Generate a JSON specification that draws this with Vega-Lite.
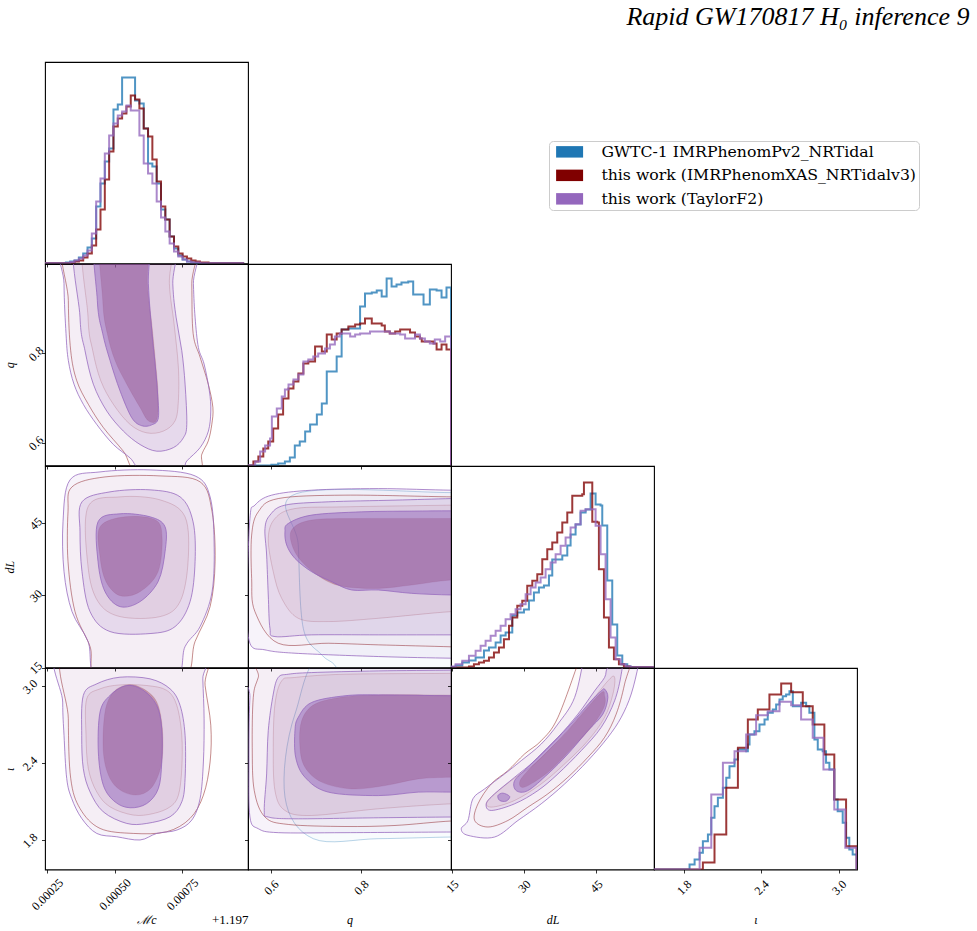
{
"$schema": "https://vega.github.io/schema/vega-lite/v6.json",
"background": "white",
"padding": {"left": 2, "top": 4, "right": 5, "bottom": 5},
"title": {"text": "Rapid GW170817 H₀ inference  9", "anchor": "end", "frame": "bounds", "font": "Liberation Serif", "fontSize": 26, "fontStyle": "italic", "fontWeight": "normal", "color": "black", "offset": 31, "dx": 50},
"datasets": {
"hist": [
{"h":"mc","s":"G","x":0.00024,"y":0.3},{"h":"mc","s":"G","x":0.00032,"y":1},{"h":"mc","s":"G","x":0.000336,"y":2},{"h":"mc","s":"G","x":0.000352,"y":3},{"h":"mc","s":"G","x":0.000368,"y":6},{"h":"mc","s":"G","x":0.000384,"y":10},{"h":"mc","s":"G","x":0.0004,"y":16},{"h":"mc","s":"G","x":0.000416,"y":25},{"h":"mc","s":"G","x":0.000432,"y":57},{"h":"mc","s":"G","x":0.000448,"y":80},{"h":"mc","s":"G","x":0.000464,"y":102},{"h":"mc","s":"G","x":0.00048,"y":115},{"h":"mc","s":"G","x":0.000496,"y":154},{"h":"mc","s":"G","x":0.000512,"y":159},{"h":"mc","s":"G","x":0.000528,"y":186},{"h":"mc","s":"G","x":0.000544,"y":186},{"h":"mc","s":"G","x":0.00056,"y":186},{"h":"mc","s":"G","x":0.000576,"y":163},{"h":"mc","s":"G","x":0.000592,"y":160},{"h":"mc","s":"G","x":0.000608,"y":135},{"h":"mc","s":"G","x":0.000624,"y":100},{"h":"mc","s":"G","x":0.00064,"y":97},{"h":"mc","s":"G","x":0.000656,"y":80},{"h":"mc","s":"G","x":0.000672,"y":54},{"h":"mc","s":"G","x":0.000688,"y":44},{"h":"mc","s":"G","x":0.000704,"y":27},{"h":"mc","s":"G","x":0.00072,"y":15},{"h":"mc","s":"G","x":0.000736,"y":8},{"h":"mc","s":"G","x":0.000752,"y":4},{"h":"mc","s":"G","x":0.000768,"y":2},{"h":"mc","s":"G","x":0.000784,"y":1},{"h":"mc","s":"G","x":0.0008,"y":0.5},{"h":"mc","s":"G","x":0.000848,"y":0.2},{"h":"mc","s":"G","x":0.000976,"y":0},
{"h":"mc","s":"X","x":0.00024,"y":0.3},{"h":"mc","s":"X","x":0.000352,"y":2},{"h":"mc","s":"X","x":0.000368,"y":3},{"h":"mc","s":"X","x":0.000384,"y":6},{"h":"mc","s":"X","x":0.0004,"y":10},{"h":"mc","s":"X","x":0.000416,"y":18},{"h":"mc","s":"X","x":0.000432,"y":34},{"h":"mc","s":"X","x":0.000448,"y":54},{"h":"mc","s":"X","x":0.000464,"y":84},{"h":"mc","s":"X","x":0.00048,"y":112},{"h":"mc","s":"X","x":0.000496,"y":137},{"h":"mc","s":"X","x":0.000512,"y":145},{"h":"mc","s":"X","x":0.000528,"y":150},{"h":"mc","s":"X","x":0.000544,"y":157},{"h":"mc","s":"X","x":0.00056,"y":168},{"h":"mc","s":"X","x":0.000576,"y":164},{"h":"mc","s":"X","x":0.000592,"y":155},{"h":"mc","s":"X","x":0.000608,"y":135},{"h":"mc","s":"X","x":0.000624,"y":127},{"h":"mc","s":"X","x":0.00064,"y":104},{"h":"mc","s":"X","x":0.000656,"y":82},{"h":"mc","s":"X","x":0.000672,"y":57},{"h":"mc","s":"X","x":0.000688,"y":44},{"h":"mc","s":"X","x":0.000704,"y":27},{"h":"mc","s":"X","x":0.00072,"y":17},{"h":"mc","s":"X","x":0.000736,"y":10},{"h":"mc","s":"X","x":0.000752,"y":7},{"h":"mc","s":"X","x":0.000768,"y":5},{"h":"mc","s":"X","x":0.000784,"y":3},{"h":"mc","s":"X","x":0.0008,"y":2},{"h":"mc","s":"X","x":0.000816,"y":1},{"h":"mc","s":"X","x":0.000848,"y":0.3},{"h":"mc","s":"X","x":0.000976,"y":0},
{"h":"mc","s":"T","x":0.00024,"y":0.3},{"h":"mc","s":"T","x":0.000336,"y":1.5},{"h":"mc","s":"T","x":0.000352,"y":3},{"h":"mc","s":"T","x":0.000368,"y":5},{"h":"mc","s":"T","x":0.000384,"y":8},{"h":"mc","s":"T","x":0.0004,"y":13},{"h":"mc","s":"T","x":0.000416,"y":30},{"h":"mc","s":"T","x":0.000432,"y":62},{"h":"mc","s":"T","x":0.000448,"y":85},{"h":"mc","s":"T","x":0.000464,"y":110},{"h":"mc","s":"T","x":0.00048,"y":128},{"h":"mc","s":"T","x":0.000496,"y":140},{"h":"mc","s":"T","x":0.000512,"y":148},{"h":"mc","s":"T","x":0.000528,"y":152},{"h":"mc","s":"T","x":0.000544,"y":158},{"h":"mc","s":"T","x":0.00056,"y":153},{"h":"mc","s":"T","x":0.000576,"y":153},{"h":"mc","s":"T","x":0.000592,"y":128},{"h":"mc","s":"T","x":0.000608,"y":100},{"h":"mc","s":"T","x":0.000624,"y":90},{"h":"mc","s":"T","x":0.00064,"y":80},{"h":"mc","s":"T","x":0.000656,"y":62},{"h":"mc","s":"T","x":0.000672,"y":46},{"h":"mc","s":"T","x":0.000688,"y":32},{"h":"mc","s":"T","x":0.000704,"y":20},{"h":"mc","s":"T","x":0.00072,"y":12},{"h":"mc","s":"T","x":0.000736,"y":7},{"h":"mc","s":"T","x":0.000752,"y":4},{"h":"mc","s":"T","x":0.000768,"y":2},{"h":"mc","s":"T","x":0.000784,"y":1},{"h":"mc","s":"T","x":0.000816,"y":0.3},{"h":"mc","s":"T","x":0.000976,"y":0},
{"h":"q","s":"G","x":0.542,"y":0},{"h":"q","s":"G","x":0.601,"y":0.7},{"h":"q","s":"G","x":0.616,"y":2},{"h":"q","s":"G","x":0.631,"y":4},{"h":"q","s":"G","x":0.642,"y":8},{"h":"q","s":"G","x":0.653,"y":20},{"h":"q","s":"G","x":0.664,"y":24},{"h":"q","s":"G","x":0.676,"y":34},{"h":"q","s":"G","x":0.687,"y":41},{"h":"q","s":"G","x":0.702,"y":51},{"h":"q","s":"G","x":0.713,"y":62},{"h":"q","s":"G","x":0.724,"y":94},{"h":"q","s":"G","x":0.746,"y":109},{"h":"q","s":"G","x":0.757,"y":136},{"h":"q","s":"G","x":0.772,"y":137},{"h":"q","s":"G","x":0.798,"y":159},{"h":"q","s":"G","x":0.809,"y":172},{"h":"q","s":"G","x":0.824,"y":173},{"h":"q","s":"G","x":0.835,"y":175},{"h":"q","s":"G","x":0.846,"y":169},{"h":"q","s":"G","x":0.857,"y":187},{"h":"q","s":"G","x":0.868,"y":179},{"h":"q","s":"G","x":0.879,"y":181},{"h":"q","s":"G","x":0.89,"y":183},{"h":"q","s":"G","x":0.905,"y":184},{"h":"q","s":"G","x":0.916,"y":171},{"h":"q","s":"G","x":0.927,"y":171},{"h":"q","s":"G","x":0.939,"y":161},{"h":"q","s":"G","x":0.953,"y":176},{"h":"q","s":"G","x":0.968,"y":175},{"h":"q","s":"G","x":0.979,"y":168},{"h":"q","s":"G","x":0.99,"y":178},{"h":"q","s":"G","x":1.0,"y":0},
{"h":"q","s":"X","x":0.542,"y":0},{"h":"q","s":"X","x":0.561,"y":4},{"h":"q","s":"X","x":0.572,"y":9},{"h":"q","s":"X","x":0.583,"y":17},{"h":"q","s":"X","x":0.594,"y":24},{"h":"q","s":"X","x":0.605,"y":37},{"h":"q","s":"X","x":0.616,"y":51},{"h":"q","s":"X","x":0.627,"y":67},{"h":"q","s":"X","x":0.639,"y":77},{"h":"q","s":"X","x":0.65,"y":84},{"h":"q","s":"X","x":0.661,"y":92},{"h":"q","s":"X","x":0.672,"y":102},{"h":"q","s":"X","x":0.683,"y":104},{"h":"q","s":"X","x":0.698,"y":119},{"h":"q","s":"X","x":0.713,"y":114},{"h":"q","s":"X","x":0.724,"y":131},{"h":"q","s":"X","x":0.735,"y":126},{"h":"q","s":"X","x":0.746,"y":132},{"h":"q","s":"X","x":0.757,"y":136},{"h":"q","s":"X","x":0.772,"y":139},{"h":"q","s":"X","x":0.787,"y":141},{"h":"q","s":"X","x":0.798,"y":142},{"h":"q","s":"X","x":0.809,"y":147},{"h":"q","s":"X","x":0.824,"y":142},{"h":"q","s":"X","x":0.835,"y":142},{"h":"q","s":"X","x":0.846,"y":140},{"h":"q","s":"X","x":0.853,"y":134},{"h":"q","s":"X","x":0.864,"y":132},{"h":"q","s":"X","x":0.876,"y":134},{"h":"q","s":"X","x":0.887,"y":136},{"h":"q","s":"X","x":0.898,"y":136},{"h":"q","s":"X","x":0.909,"y":133},{"h":"q","s":"X","x":0.92,"y":129},{"h":"q","s":"X","x":0.931,"y":127},{"h":"q","s":"X","x":0.935,"y":124},{"h":"q","s":"X","x":0.946,"y":124},{"h":"q","s":"X","x":0.961,"y":122},{"h":"q","s":"X","x":0.968,"y":116},{"h":"q","s":"X","x":0.979,"y":121},{"h":"q","s":"X","x":0.99,"y":116},{"h":"q","s":"X","x":1.0,"y":0},
{"h":"q","s":"T","x":0.542,"y":0},{"h":"q","s":"T","x":0.565,"y":4},{"h":"q","s":"T","x":0.576,"y":14},{"h":"q","s":"T","x":0.587,"y":20},{"h":"q","s":"T","x":0.598,"y":27},{"h":"q","s":"T","x":0.602,"y":49},{"h":"q","s":"T","x":0.613,"y":57},{"h":"q","s":"T","x":0.624,"y":69},{"h":"q","s":"T","x":0.631,"y":76},{"h":"q","s":"T","x":0.639,"y":81},{"h":"q","s":"T","x":0.65,"y":86},{"h":"q","s":"T","x":0.661,"y":91},{"h":"q","s":"T","x":0.672,"y":104},{"h":"q","s":"T","x":0.683,"y":106},{"h":"q","s":"T","x":0.694,"y":109},{"h":"q","s":"T","x":0.705,"y":112},{"h":"q","s":"T","x":0.72,"y":117},{"h":"q","s":"T","x":0.731,"y":121},{"h":"q","s":"T","x":0.742,"y":129},{"h":"q","s":"T","x":0.753,"y":132},{"h":"q","s":"T","x":0.764,"y":132},{"h":"q","s":"T","x":0.776,"y":129},{"h":"q","s":"T","x":0.787,"y":131},{"h":"q","s":"T","x":0.798,"y":132},{"h":"q","s":"T","x":0.809,"y":132},{"h":"q","s":"T","x":0.82,"y":134},{"h":"q","s":"T","x":0.831,"y":134},{"h":"q","s":"T","x":0.842,"y":134},{"h":"q","s":"T","x":0.853,"y":134},{"h":"q","s":"T","x":0.864,"y":132},{"h":"q","s":"T","x":0.876,"y":132},{"h":"q","s":"T","x":0.887,"y":131},{"h":"q","s":"T","x":0.898,"y":127},{"h":"q","s":"T","x":0.909,"y":127},{"h":"q","s":"T","x":0.92,"y":131},{"h":"q","s":"T","x":0.931,"y":127},{"h":"q","s":"T","x":0.942,"y":124},{"h":"q","s":"T","x":0.953,"y":122},{"h":"q","s":"T","x":0.964,"y":126},{"h":"q","s":"T","x":0.976,"y":124},{"h":"q","s":"T","x":0.987,"y":129},{"h":"q","s":"T","x":0.998,"y":129},{"h":"q","s":"T","x":1.0,"y":0},
{"h":"dl","s":"G","x":14.38,"y":0.5},{"h":"dl","s":"G","x":15.76,"y":2},{"h":"dl","s":"G","x":17.15,"y":5},{"h":"dl","s":"G","x":18.54,"y":7},{"h":"dl","s":"G","x":19.93,"y":10},{"h":"dl","s":"G","x":21.67,"y":17},{"h":"dl","s":"G","x":22.71,"y":20},{"h":"dl","s":"G","x":24.1,"y":25},{"h":"dl","s":"G","x":25.14,"y":32},{"h":"dl","s":"G","x":26.18,"y":35},{"h":"dl","s":"G","x":27.57,"y":52},{"h":"dl","s":"G","x":28.61,"y":55},{"h":"dl","s":"G","x":30.0,"y":58},{"h":"dl","s":"G","x":31.04,"y":67},{"h":"dl","s":"G","x":32.08,"y":75},{"h":"dl","s":"G","x":33.12,"y":80},{"h":"dl","s":"G","x":34.17,"y":82},{"h":"dl","s":"G","x":35.21,"y":92},{"h":"dl","s":"G","x":35.9,"y":108},{"h":"dl","s":"G","x":36.94,"y":108},{"h":"dl","s":"G","x":37.99,"y":112},{"h":"dl","s":"G","x":39.03,"y":122},{"h":"dl","s":"G","x":39.72,"y":133},{"h":"dl","s":"G","x":40.76,"y":143},{"h":"dl","s":"G","x":41.8,"y":155},{"h":"dl","s":"G","x":42.85,"y":158},{"h":"dl","s":"G","x":43.89,"y":174},{"h":"dl","s":"G","x":44.93,"y":163},{"h":"dl","s":"G","x":45.97,"y":162},{"h":"dl","s":"G","x":46.32,"y":142},{"h":"dl","s":"G","x":47.36,"y":87},{"h":"dl","s":"G","x":48.4,"y":43},{"h":"dl","s":"G","x":49.44,"y":12},{"h":"dl","s":"G","x":50.49,"y":3.3},{"h":"dl","s":"G","x":51.53,"y":1},{"h":"dl","s":"G","x":52.22,"y":0.3},{"h":"dl","s":"G","x":57.5,"y":0},
{"h":"dl","s":"X","x":14.38,"y":0},{"h":"dl","s":"X","x":18.54,"y":1},{"h":"dl","s":"X","x":19.58,"y":3.3},{"h":"dl","s":"X","x":20.62,"y":5},{"h":"dl","s":"X","x":21.67,"y":6.7},{"h":"dl","s":"X","x":22.71,"y":10},{"h":"dl","s":"X","x":23.75,"y":15},{"h":"dl","s":"X","x":24.79,"y":20},{"h":"dl","s":"X","x":25.83,"y":28.3},{"h":"dl","s":"X","x":26.88,"y":41.7},{"h":"dl","s":"X","x":27.57,"y":50},{"h":"dl","s":"X","x":28.61,"y":61.7},{"h":"dl","s":"X","x":29.65,"y":66.7},{"h":"dl","s":"X","x":30.69,"y":81.7},{"h":"dl","s":"X","x":31.74,"y":86.7},{"h":"dl","s":"X","x":32.78,"y":93.3},{"h":"dl","s":"X","x":33.82,"y":108.3},{"h":"dl","s":"X","x":34.86,"y":118.3},{"h":"dl","s":"X","x":35.9,"y":125},{"h":"dl","s":"X","x":36.94,"y":135},{"h":"dl","s":"X","x":37.99,"y":145},{"h":"dl","s":"X","x":39.03,"y":155},{"h":"dl","s":"X","x":40.07,"y":171.7},{"h":"dl","s":"X","x":42.15,"y":173.3},{"h":"dl","s":"X","x":42.5,"y":185},{"h":"dl","s":"X","x":43.19,"y":185},{"h":"dl","s":"X","x":44.24,"y":145.7},{"h":"dl","s":"X","x":45.28,"y":145},{"h":"dl","s":"X","x":45.62,"y":98.3},{"h":"dl","s":"X","x":46.67,"y":50},{"h":"dl","s":"X","x":47.71,"y":20},{"h":"dl","s":"X","x":48.75,"y":8.3},{"h":"dl","s":"X","x":49.79,"y":3.3},{"h":"dl","s":"X","x":50.83,"y":1},{"h":"dl","s":"X","x":52.0,"y":0.3},{"h":"dl","s":"X","x":57.5,"y":0},
{"h":"dl","s":"T","x":14.38,"y":1},{"h":"dl","s":"T","x":15.76,"y":3.3},{"h":"dl","s":"T","x":17.15,"y":6.7},{"h":"dl","s":"T","x":18.54,"y":11.7},{"h":"dl","s":"T","x":19.93,"y":16.7},{"h":"dl","s":"T","x":20.97,"y":21.7},{"h":"dl","s":"T","x":22.01,"y":26.7},{"h":"dl","s":"T","x":23.06,"y":31.7},{"h":"dl","s":"T","x":24.1,"y":36.7},{"h":"dl","s":"T","x":25.14,"y":41.7},{"h":"dl","s":"T","x":26.18,"y":48.3},{"h":"dl","s":"T","x":27.22,"y":53.3},{"h":"dl","s":"T","x":28.26,"y":58.3},{"h":"dl","s":"T","x":29.3,"y":63.3},{"h":"dl","s":"T","x":30.35,"y":73.3},{"h":"dl","s":"T","x":31.39,"y":80},{"h":"dl","s":"T","x":32.43,"y":85},{"h":"dl","s":"T","x":33.47,"y":90},{"h":"dl","s":"T","x":34.51,"y":98.3},{"h":"dl","s":"T","x":35.55,"y":105},{"h":"dl","s":"T","x":36.6,"y":113.3},{"h":"dl","s":"T","x":37.64,"y":121.7},{"h":"dl","s":"T","x":38.68,"y":130},{"h":"dl","s":"T","x":39.72,"y":140},{"h":"dl","s":"T","x":40.76,"y":143.3},{"h":"dl","s":"T","x":41.8,"y":156.7},{"h":"dl","s":"T","x":42.85,"y":158.3},{"h":"dl","s":"T","x":44.93,"y":141.7},{"h":"dl","s":"T","x":45.97,"y":113.3},{"h":"dl","s":"T","x":47.01,"y":68.3},{"h":"dl","s":"T","x":48.05,"y":30},{"h":"dl","s":"T","x":49.1,"y":8.3},{"h":"dl","s":"T","x":50.14,"y":3.3},{"h":"dl","s":"T","x":51.18,"y":1},{"h":"dl","s":"T","x":52.22,"y":0.3},{"h":"dl","s":"T","x":57.5,"y":0},
{"h":"io","s":"G","x":1.537,"y":0},{"h":"io","s":"G","x":1.846,"y":5},{"h":"io","s":"G","x":1.885,"y":10},{"h":"io","s":"G","x":1.924,"y":16.7},{"h":"io","s":"G","x":1.949,"y":28.3},{"h":"io","s":"G","x":1.988,"y":35},{"h":"io","s":"G","x":2.014,"y":51.7},{"h":"io","s":"G","x":2.039,"y":63.3},{"h":"io","s":"G","x":2.065,"y":71.7},{"h":"io","s":"G","x":2.104,"y":81.7},{"h":"io","s":"G","x":2.13,"y":91.7},{"h":"io","s":"G","x":2.155,"y":103.3},{"h":"io","s":"G","x":2.194,"y":110},{"h":"io","s":"G","x":2.22,"y":120},{"h":"io","s":"G","x":2.284,"y":118.3},{"h":"io","s":"G","x":2.297,"y":125},{"h":"io","s":"G","x":2.31,"y":135},{"h":"io","s":"G","x":2.348,"y":138.3},{"h":"io","s":"G","x":2.387,"y":145},{"h":"io","s":"G","x":2.426,"y":150},{"h":"io","s":"G","x":2.451,"y":156.7},{"h":"io","s":"G","x":2.49,"y":160},{"h":"io","s":"G","x":2.516,"y":165},{"h":"io","s":"G","x":2.542,"y":170},{"h":"io","s":"G","x":2.567,"y":173.3},{"h":"io","s":"G","x":2.593,"y":175},{"h":"io","s":"G","x":2.619,"y":178.3},{"h":"io","s":"G","x":2.645,"y":163.3},{"h":"io","s":"G","x":2.683,"y":163.3},{"h":"io","s":"G","x":2.709,"y":166.7},{"h":"io","s":"G","x":2.748,"y":163.3},{"h":"io","s":"G","x":2.773,"y":156.7},{"h":"io","s":"G","x":2.812,"y":130},{"h":"io","s":"G","x":2.838,"y":120},{"h":"io","s":"G","x":2.876,"y":118.3},{"h":"io","s":"G","x":2.902,"y":106.7},{"h":"io","s":"G","x":2.928,"y":100},{"h":"io","s":"G","x":2.966,"y":70},{"h":"io","s":"G","x":2.992,"y":58.3},{"h":"io","s":"G","x":3.031,"y":46.7},{"h":"io","s":"G","x":3.057,"y":31.7},{"h":"io","s":"G","x":3.082,"y":20},{"h":"io","s":"G","x":3.108,"y":15},{"h":"io","s":"G","x":3.139,"y":0},
{"h":"io","s":"X","x":1.537,"y":0},{"h":"io","s":"X","x":1.949,"y":7},{"h":"io","s":"X","x":2.039,"y":35},{"h":"io","s":"X","x":2.13,"y":81.7},{"h":"io","s":"X","x":2.22,"y":121.7},{"h":"io","s":"X","x":2.297,"y":150},{"h":"io","s":"X","x":2.374,"y":160},{"h":"io","s":"X","x":2.464,"y":175},{"h":"io","s":"X","x":2.555,"y":186},{"h":"io","s":"X","x":2.632,"y":177.3},{"h":"io","s":"X","x":2.722,"y":163.3},{"h":"io","s":"X","x":2.799,"y":145},{"h":"io","s":"X","x":2.889,"y":115},{"h":"io","s":"X","x":2.966,"y":70},{"h":"io","s":"X","x":3.057,"y":23.3},{"h":"io","s":"X","x":3.139,"y":0},
{"h":"io","s":"T","x":1.537,"y":0},{"h":"io","s":"T","x":1.924,"y":21.7},{"h":"io","s":"T","x":2.014,"y":75},{"h":"io","s":"T","x":2.104,"y":106.7},{"h":"io","s":"T","x":2.194,"y":118.3},{"h":"io","s":"T","x":2.284,"y":135},{"h":"io","s":"T","x":2.361,"y":154.3},{"h":"io","s":"T","x":2.451,"y":158.3},{"h":"io","s":"T","x":2.542,"y":167.7},{"h":"io","s":"T","x":2.632,"y":164.3},{"h":"io","s":"T","x":2.709,"y":150},{"h":"io","s":"T","x":2.799,"y":131.7},{"h":"io","s":"T","x":2.882,"y":100},{"h":"io","s":"T","x":2.966,"y":60},{"h":"io","s":"T","x":3.051,"y":21.7},{"h":"io","s":"T","x":3.139,"y":0}
],
"cont": [
{"p":"A","g":"R3","x":0.0003326,"y":1.1},{"p":"A","g":"R3","x":0.000329,"y":0.918},{"p":"A","g":"R3","x":0.0003377,"y":0.806},{"p":"A","g":"R3","x":0.00036,"y":0.739},{"p":"A","g":"R3","x":0.000403,"y":0.686},{"p":"A","g":"R3","x":0.0004585,"y":0.634},{"p":"A","g":"R3","x":0.0005326,"y":0.581},{"p":"A","g":"R3","x":0.0005944,"y":0.53},{"p":"A","g":"R3","x":0.000804,"y":0.53},{"p":"A","g":"R3","x":0.000823,"y":0.574},{"p":"A","g":"R3","x":0.000847,"y":0.604},{"p":"A","g":"R3","x":0.00086,"y":0.641},{"p":"A","g":"R3","x":0.000864,"y":0.679},{"p":"A","g":"R3","x":0.000847,"y":0.731},{"p":"A","g":"R3","x":0.000817,"y":0.791},{"p":"A","g":"R3","x":0.000791,"y":0.844},{"p":"A","g":"R3","x":0.000786,"y":0.956},{"p":"A","g":"R3","x":0.000784,"y":1.1},
{"p":"A","g":"R2","x":0.0003993,"y":1.1},{"p":"A","g":"R2","x":0.0004019,"y":0.881},{"p":"A","g":"R2","x":0.0004193,"y":0.806},{"p":"A","g":"R2","x":0.0004489,"y":0.739},{"p":"A","g":"R2","x":0.0004956,"y":0.686},{"p":"A","g":"R2","x":0.0005574,"y":0.641},{"p":"A","g":"R2","x":0.0006193,"y":0.622},{"p":"A","g":"R2","x":0.0006807,"y":0.626},{"p":"A","g":"R2","x":0.0007241,"y":0.649},{"p":"A","g":"R2","x":0.0007363,"y":0.694},{"p":"A","g":"R2","x":0.0007363,"y":0.769},{"p":"A","g":"R2","x":0.0007204,"y":0.866},{"p":"A","g":"R2","x":0.000703,"y":0.956},{"p":"A","g":"R2","x":0.0006993,"y":1.1},
{"p":"A","g":"R1","x":0.0004526,"y":1.1},{"p":"A","g":"R1","x":0.0004563,"y":0.918},{"p":"A","g":"R1","x":0.0004733,"y":0.844},{"p":"A","g":"R1","x":0.0005019,"y":0.784},{"p":"A","g":"R1","x":0.0005452,"y":0.731},{"p":"A","g":"R1","x":0.0005944,"y":0.679},{"p":"A","g":"R1","x":0.0006252,"y":0.649},{"p":"A","g":"R1","x":0.0006563,"y":0.652},{"p":"A","g":"R1","x":0.0006611,"y":0.709},{"p":"A","g":"R1","x":0.0006511,"y":0.784},{"p":"A","g":"R1","x":0.0006378,"y":0.866},{"p":"A","g":"R1","x":0.0006215,"y":0.956},{"p":"A","g":"R1","x":0.0006167,"y":1.1},
{"p":"A","g":"P3","x":0.0003167,"y":1.1},{"p":"A","g":"P3","x":0.000313,"y":0.956},{"p":"A","g":"P3","x":0.0003204,"y":0.844},{"p":"A","g":"P3","x":0.000329,"y":0.784},{"p":"A","g":"P3","x":0.00035,"y":0.731},{"p":"A","g":"P3","x":0.0003844,"y":0.686},{"p":"A","g":"P3","x":0.000434,"y":0.641},{"p":"A","g":"P3","x":0.0004956,"y":0.596},{"p":"A","g":"P3","x":0.0005574,"y":0.566},{"p":"A","g":"P3","x":0.0006067,"y":0.536},{"p":"A","g":"P3","x":0.0007426,"y":0.536},{"p":"A","g":"P3","x":0.0007674,"y":0.559},{"p":"A","g":"P3","x":0.0008167,"y":0.589},{"p":"A","g":"P3","x":0.0008474,"y":0.626},{"p":"A","g":"P3","x":0.0008563,"y":0.671},{"p":"A","g":"P3","x":0.000851,"y":0.716},{"p":"A","g":"P3","x":0.0008315,"y":0.776},{"p":"A","g":"P3","x":0.0008104,"y":0.813},{"p":"A","g":"P3","x":0.0007981,"y":0.881},{"p":"A","g":"P3","x":0.0007919,"y":0.956},{"p":"A","g":"P3","x":0.000786,"y":1.1},
{"p":"A","g":"P2","x":0.0003696,"y":1.1},{"p":"A","g":"P2","x":0.0003722,"y":0.881},{"p":"A","g":"P2","x":0.0003907,"y":0.806},{"p":"A","g":"P2","x":0.0004215,"y":0.731},{"p":"A","g":"P2","x":0.0004711,"y":0.671},{"p":"A","g":"P2","x":0.0005326,"y":0.626},{"p":"A","g":"P2","x":0.0005944,"y":0.596},{"p":"A","g":"P2","x":0.0006563,"y":0.581},{"p":"A","g":"P2","x":0.0007178,"y":0.589},{"p":"A","g":"P2","x":0.0007548,"y":0.611},{"p":"A","g":"P2","x":0.0007674,"y":0.641},{"p":"A","g":"P2","x":0.0007611,"y":0.731},{"p":"A","g":"P2","x":0.0007489,"y":0.806},{"p":"A","g":"P2","x":0.0007278,"y":0.881},{"p":"A","g":"P2","x":0.0007156,"y":0.956},{"p":"A","g":"P2","x":0.0007119,"y":1.1},
{"p":"A","g":"P1","x":0.0004341,"y":1.1},{"p":"A","g":"P1","x":0.0004363,"y":0.918},{"p":"A","g":"P1","x":0.0004563,"y":0.844},{"p":"A","g":"P1","x":0.0004833,"y":0.784},{"p":"A","g":"P1","x":0.0005204,"y":0.716},{"p":"A","g":"P1","x":0.0005637,"y":0.656},{"p":"A","g":"P1","x":0.0006007,"y":0.638},{"p":"A","g":"P1","x":0.0006378,"y":0.64},{"p":"A","g":"P1","x":0.0006622,"y":0.656},{"p":"A","g":"P1","x":0.0006585,"y":0.716},{"p":"A","g":"P1","x":0.00065,"y":0.776},{"p":"A","g":"P1","x":0.0006378,"y":0.851},{"p":"A","g":"P1","x":0.0006252,"y":0.956},{"p":"A","g":"P1","x":0.0006193,"y":1.1},
{"p":"B","g":"R3","x":0.0003426,"y":52.56},{"p":"B","g":"R3","x":0.0004648,"y":54.63},{"p":"B","g":"R3","x":0.0006685,"y":54.84},{"p":"B","g":"R3","x":0.0008167,"y":53.6},{"p":"B","g":"R3","x":0.0008611,"y":47.37},{"p":"B","g":"R3","x":0.0008722,"y":37.0},{"p":"B","g":"R3","x":0.0008537,"y":27.66},{"p":"B","g":"R3","x":0.0007981,"y":20.4},{"p":"B","g":"R3","x":0.0007426,"y":12},{"p":"B","g":"R3","x":0.0004463,"y":12},{"p":"B","g":"R3","x":0.0004093,"y":19.36},{"p":"B","g":"R3","x":0.0003537,"y":26.62},{"p":"B","g":"R3","x":0.0003278,"y":37.0},{"p":"B","g":"R3","x":0.0003278,"y":47.37},
{"p":"B","g":"R2","x":0.0004019,"y":48.41},{"p":"B","g":"R2","x":0.0005204,"y":50.48},{"p":"B","g":"R2","x":0.0006685,"y":49.86},{"p":"B","g":"R2","x":0.0007611,"y":46.33},{"p":"B","g":"R2","x":0.0007722,"y":37.0},{"p":"B","g":"R2","x":0.0007426,"y":28.7},{"p":"B","g":"R2","x":0.0006685,"y":25.58},{"p":"B","g":"R2","x":0.0005204,"y":25.58},{"p":"B","g":"R2","x":0.0004389,"y":28.7},{"p":"B","g":"R2","x":0.0004019,"y":35.96},
{"p":"B","g":"R1","x":0.0004463,"y":44.26},{"p":"B","g":"R1","x":0.0005389,"y":46.33},{"p":"B","g":"R1","x":0.00065,"y":45.71},{"p":"B","g":"R1","x":0.0006759,"y":42.18},{"p":"B","g":"R1","x":0.0006611,"y":34.92},{"p":"B","g":"R1","x":0.0005944,"y":30.77},{"p":"B","g":"R1","x":0.0005204,"y":29.94},{"p":"B","g":"R1","x":0.0004685,"y":32.85},{"p":"B","g":"R1","x":0.0004463,"y":38.03},
{"p":"B","g":"P3","x":0.0003352,"y":54.01},{"p":"B","g":"P3","x":0.0004463,"y":55.67},{"p":"B","g":"P3","x":0.0006315,"y":56.09},{"p":"B","g":"P3","x":0.0007981,"y":54.84},{"p":"B","g":"P3","x":0.0008537,"y":50.48},{"p":"B","g":"P3","x":0.0008685,"y":41.15},{"p":"B","g":"P3","x":0.0008611,"y":30.77},{"p":"B","g":"P3","x":0.0008167,"y":23.51},{"p":"B","g":"P3","x":0.0007611,"y":19.36},{"p":"B","g":"P3","x":0.000713,"y":12},{"p":"B","g":"P3","x":0.0004463,"y":12},{"p":"B","g":"P3","x":0.0004019,"y":20.4},{"p":"B","g":"P3","x":0.0003426,"y":26.62},{"p":"B","g":"P3","x":0.000313,"y":34.92},{"p":"B","g":"P3","x":0.0003093,"y":45.3},
{"p":"B","g":"P2","x":0.0003796,"y":49.45},{"p":"B","g":"P2","x":0.0004833,"y":51.52},{"p":"B","g":"P2","x":0.0006315,"y":51.94},{"p":"B","g":"P2","x":0.0007426,"y":50.48},{"p":"B","g":"P2","x":0.0007907,"y":45.3},{"p":"B","g":"P2","x":0.0007981,"y":37.0},{"p":"B","g":"P2","x":0.0007796,"y":28.7},{"p":"B","g":"P2","x":0.0007241,"y":23.51},{"p":"B","g":"P2","x":0.0006315,"y":22.06},{"p":"B","g":"P2","x":0.0004833,"y":22.47},{"p":"B","g":"P2","x":0.0004093,"y":26.62},{"p":"B","g":"P2","x":0.0003796,"y":34.92},{"p":"B","g":"P2","x":0.0003722,"y":43.22},
{"p":"B","g":"P1","x":0.0004389,"y":45.3},{"p":"B","g":"P1","x":0.0005204,"y":46.96},{"p":"B","g":"P1","x":0.0006315,"y":46.33},{"p":"B","g":"P1","x":0.000687,"y":44.26},{"p":"B","g":"P1","x":0.000687,"y":39.07},{"p":"B","g":"P1","x":0.0006611,"y":32.85},{"p":"B","g":"P1","x":0.0005944,"y":28.7},{"p":"B","g":"P1","x":0.0005204,"y":27.66},{"p":"B","g":"P1","x":0.0004648,"y":30.77},{"p":"B","g":"P1","x":0.0004389,"y":37.0},
{"p":"C","g":"B3","x":0.6571,"y":51.17},{"p":"C","g":"B3","x":1.0016,"y":51.37},{"p":"C","g":"B3","x":1.1,"y":51.37},{"p":"C","g":"B3","x":1.1,"y":10},{"p":"C","g":"B3","x":0.7644,"y":10},{"p":"C","g":"B3","x":0.7438,"y":15.21},{"p":"C","g":"B3","x":0.7127,"y":17.64},{"p":"C","g":"B3","x":0.6718,"y":23.15},{"p":"C","g":"B3","x":0.6607,"y":40.46},
{"p":"C","g":"R3","x":0.5571,"y":42.54},{"p":"C","g":"R3","x":0.5718,"y":47.37},{"p":"C","g":"R3","x":0.6162,"y":50.13},{"p":"C","g":"R3","x":0.7644,"y":50.84},{"p":"C","g":"R3","x":1.0016,"y":50.48},{"p":"C","g":"R3","x":1.1,"y":50.48},{"p":"C","g":"R3","x":1.1,"y":19.0},{"p":"C","g":"R3","x":1.0016,"y":19.3},{"p":"C","g":"R3","x":0.8384,"y":19.71},{"p":"C","g":"R3","x":0.7273,"y":20.04},{"p":"C","g":"R3","x":0.6162,"y":20.04},{"p":"C","g":"R3","x":0.5644,"y":26.62},{"p":"C","g":"R3","x":0.5571,"y":33.53},
{"p":"C","g":"R2","x":0.594,"y":41.83},{"p":"C","g":"R2","x":0.6089,"y":45.98},{"p":"C","g":"R2","x":0.6533,"y":48.05},{"p":"C","g":"R2","x":0.7644,"y":48.41},{"p":"C","g":"R2","x":1.0016,"y":48.76},{"p":"C","g":"R2","x":1.1,"y":48.82},{"p":"C","g":"R2","x":1.1,"y":26.62},{"p":"C","g":"R2","x":1.0016,"y":26.62},{"p":"C","g":"R2","x":0.8384,"y":25.23},{"p":"C","g":"R2","x":0.7273,"y":24.55},{"p":"C","g":"R2","x":0.6607,"y":25.23},{"p":"C","g":"R2","x":0.6238,"y":29.38},{"p":"C","g":"R2","x":0.6051,"y":34.92},
{"p":"C","g":"R1","x":0.646,"y":43.57},{"p":"C","g":"R1","x":0.6904,"y":45.65},{"p":"C","g":"R1","x":0.8016,"y":45.98},{"p":"C","g":"R1","x":1.0016,"y":45.98},{"p":"C","g":"R1","x":1.1,"y":45.98},{"p":"C","g":"R1","x":1.1,"y":33.2},{"p":"C","g":"R1","x":1.0016,"y":33.2},{"p":"C","g":"R1","x":0.9127,"y":32.16},{"p":"C","g":"R1","x":0.8384,"y":31.45},{"p":"C","g":"R1","x":0.7644,"y":31.81},{"p":"C","g":"R1","x":0.72,"y":33.2},{"p":"C","g":"R1","x":0.6756,"y":36.31},{"p":"C","g":"R1","x":0.6496,"y":39.75},
{"p":"C","g":"P3","x":0.5533,"y":45.98},{"p":"C","g":"P3","x":0.5644,"y":48.76},{"p":"C","g":"P3","x":0.6016,"y":50.84},{"p":"C","g":"P3","x":0.6904,"y":51.87},{"p":"C","g":"P3","x":0.8384,"y":52.2},{"p":"C","g":"P3","x":1.0016,"y":51.87},{"p":"C","g":"P3","x":1.1,"y":51.94},{"p":"C","g":"P3","x":1.1,"y":16.87},{"p":"C","g":"P3","x":1.0016,"y":16.93},{"p":"C","g":"P3","x":0.8384,"y":17.28},{"p":"C","g":"P3","x":0.6533,"y":17.97},{"p":"C","g":"P3","x":0.5867,"y":18.67},{"p":"C","g":"P3","x":0.5533,"y":20.04},{"p":"C","g":"P3","x":0.5467,"y":28.7},
{"p":"C","g":"P2","x":0.5867,"y":43.9},{"p":"C","g":"P2","x":0.5978,"y":46.69},{"p":"C","g":"P2","x":0.6311,"y":48.76},{"p":"C","g":"P2","x":0.7273,"y":49.45},{"p":"C","g":"P2","x":0.8756,"y":49.8},{"p":"C","g":"P2","x":1.0016,"y":50.13},{"p":"C","g":"P2","x":1.1,"y":50.28},{"p":"C","g":"P2","x":1.1,"y":21.79},{"p":"C","g":"P2","x":1.0016,"y":21.79},{"p":"C","g":"P2","x":0.8384,"y":21.79},{"p":"C","g":"P2","x":0.6904,"y":21.79},{"p":"C","g":"P2","x":0.6089,"y":21.43},{"p":"C","g":"P2","x":0.5978,"y":23.15},{"p":"C","g":"P2","x":0.594,"y":30.08},{"p":"C","g":"P2","x":0.5904,"y":38.39},
{"p":"C","g":"P1","x":0.6311,"y":43.22},{"p":"C","g":"P1","x":0.6384,"y":44.94},{"p":"C","g":"P1","x":0.6904,"y":46.69},{"p":"C","g":"P1","x":0.8016,"y":47.37},{"p":"C","g":"P1","x":0.9127,"y":47.52},{"p":"C","g":"P1","x":1.0016,"y":47.58},{"p":"C","g":"P1","x":1.1,"y":47.58},{"p":"C","g":"P1","x":1.1,"y":30.08},{"p":"C","g":"P1","x":1.0016,"y":30.08},{"p":"C","g":"P1","x":0.9127,"y":30.42},{"p":"C","g":"P1","x":0.8384,"y":31.12},{"p":"C","g":"P1","x":0.7793,"y":31.12},{"p":"C","g":"P1","x":0.7349,"y":32.85},{"p":"C","g":"P1","x":0.6904,"y":34.92},{"p":"C","g":"P1","x":0.6533,"y":37.68},{"p":"C","g":"P1","x":0.6349,"y":40.46},
{"p":"D","g":"R3","x":0.0003326,"y":3.35},{"p":"D","g":"R3","x":0.0003289,"y":2.746},{"p":"D","g":"R3","x":0.0003378,"y":2.28},{"p":"D","g":"R3","x":0.0003722,"y":2.046},{"p":"D","g":"R3","x":0.0004463,"y":1.891},{"p":"D","g":"R3","x":0.0005696,"y":1.852},{"p":"D","g":"R3","x":0.0006933,"y":1.865},{"p":"D","g":"R3","x":0.0007796,"y":1.969},{"p":"D","g":"R3","x":0.0008289,"y":2.15},{"p":"D","g":"R3","x":0.0008537,"y":2.409},{"p":"D","g":"R3","x":0.0008563,"y":2.695},{"p":"D","g":"R3","x":0.0008352,"y":3.005},{"p":"D","g":"R3","x":0.0008167,"y":3.35},
{"p":"D","g":"R2","x":0.000397,"y":2.901},{"p":"D","g":"R2","x":0.0003944,"y":2.617},{"p":"D","g":"R2","x":0.000403,"y":2.357},{"p":"D","g":"R2","x":0.0004341,"y":2.176},{"p":"D","g":"R2","x":0.0004833,"y":2.059},{"p":"D","g":"R2","x":0.0005696,"y":1.995},{"p":"D","g":"R2","x":0.0006437,"y":2.007},{"p":"D","g":"R2","x":0.0007056,"y":2.059},{"p":"D","g":"R2","x":0.0007363,"y":2.15},{"p":"D","g":"R2","x":0.0007489,"y":2.357},{"p":"D","g":"R2","x":0.0007489,"y":2.617},{"p":"D","g":"R2","x":0.0007304,"y":2.85},{"p":"D","g":"R2","x":0.0006933,"y":2.967},{"p":"D","g":"R2","x":0.0006193,"y":3.005},{"p":"D","g":"R2","x":0.0005204,"y":3.01},{"p":"D","g":"R2","x":0.0004463,"y":2.979},
{"p":"D","g":"R1","x":0.0004956,"y":2.953},{"p":"D","g":"R1","x":0.0004648,"y":2.798},{"p":"D","g":"R1","x":0.0004585,"y":2.487},{"p":"D","g":"R1","x":0.0004833,"y":2.28},{"p":"D","g":"R1","x":0.0005326,"y":2.176},{"p":"D","g":"R1","x":0.0005944,"y":2.155},{"p":"D","g":"R1","x":0.0006437,"y":2.228},{"p":"D","g":"R1","x":0.0006748,"y":2.409},{"p":"D","g":"R1","x":0.000677,"y":2.668},{"p":"D","g":"R1","x":0.0006563,"y":2.876},{"p":"D","g":"R1","x":0.0006067,"y":2.979},{"p":"D","g":"R1","x":0.0005511,"y":3.01},
{"p":"D","g":"P3","x":0.0003104,"y":3.35},{"p":"D","g":"P3","x":0.0003081,"y":2.876},{"p":"D","g":"P3","x":0.000313,"y":2.617},{"p":"D","g":"P3","x":0.000323,"y":2.28},{"p":"D","g":"P3","x":0.0003415,"y":2.124},{"p":"D","g":"P3","x":0.0003785,"y":1.969},{"p":"D","g":"P3","x":0.0004341,"y":1.852},{"p":"D","g":"P3","x":0.0005081,"y":1.826},{"p":"D","g":"P3","x":0.0005944,"y":1.801},{"p":"D","g":"P3","x":0.0006563,"y":1.852},{"p":"D","g":"P3","x":0.0007304,"y":1.878},{"p":"D","g":"P3","x":0.0007859,"y":1.956},{"p":"D","g":"P3","x":0.0008167,"y":2.124},{"p":"D","g":"P3","x":0.0008289,"y":2.409},{"p":"D","g":"P3","x":0.0008315,"y":2.746},{"p":"D","g":"P3","x":0.0008267,"y":3.057},{"p":"D","g":"P3","x":0.000823,"y":3.35},
{"p":"D","g":"P2","x":0.0003844,"y":2.928},{"p":"D","g":"P2","x":0.0003785,"y":2.617},{"p":"D","g":"P2","x":0.0003844,"y":2.357},{"p":"D","g":"P2","x":0.0004093,"y":2.176},{"p":"D","g":"P2","x":0.0004585,"y":2.02},{"p":"D","g":"P2","x":0.0005452,"y":1.93},{"p":"D","g":"P2","x":0.0006193,"y":1.93},{"p":"D","g":"P2","x":0.0007056,"y":1.982},{"p":"D","g":"P2","x":0.0007489,"y":2.098},{"p":"D","g":"P2","x":0.0007611,"y":2.28},{"p":"D","g":"P2","x":0.0007611,"y":2.617},{"p":"D","g":"P2","x":0.0007426,"y":2.85},{"p":"D","g":"P2","x":0.0007056,"y":2.979},{"p":"D","g":"P2","x":0.0006315,"y":3.057},{"p":"D","g":"P2","x":0.0005204,"y":3.07},{"p":"D","g":"P2","x":0.0004341,"y":3.018},
{"p":"D","g":"P1","x":0.0004833,"y":2.928},{"p":"D","g":"P1","x":0.0004463,"y":2.798},{"p":"D","g":"P1","x":0.00044,"y":2.487},{"p":"D","g":"P1","x":0.0004585,"y":2.228},{"p":"D","g":"P1","x":0.0005019,"y":2.098},{"p":"D","g":"P1","x":0.0005574,"y":2.052},{"p":"D","g":"P1","x":0.0006193,"y":2.085},{"p":"D","g":"P1","x":0.0006622,"y":2.202},{"p":"D","g":"P1","x":0.0006748,"y":2.409},{"p":"D","g":"P1","x":0.0006748,"y":2.668},{"p":"D","g":"P1","x":0.0006563,"y":2.85},{"p":"D","g":"P1","x":0.0006067,"y":2.967},{"p":"D","g":"P1","x":0.0005452,"y":3.005},
{"p":"E","g":"B3","x":0.7496,"y":3.35},{"p":"E","g":"B3","x":0.6533,"y":2.782},{"p":"E","g":"B3","x":0.6311,"y":2.135},{"p":"E","g":"B3","x":0.694,"y":1.811},{"p":"E","g":"B3","x":0.8384,"y":1.811},{"p":"E","g":"B3","x":1.0016,"y":1.824},{"p":"E","g":"B3","x":1.1,"y":1.824},{"p":"E","g":"B3","x":1.1,"y":3.35},
{"p":"E","g":"R3","x":0.6016,"y":3.35},{"p":"E","g":"R3","x":0.5718,"y":3.068},{"p":"E","g":"R3","x":0.5607,"y":2.912},{"p":"E","g":"R3","x":0.5584,"y":2.524},{"p":"E","g":"R3","x":0.5629,"y":2.186},{"p":"E","g":"R3","x":0.5867,"y":1.98},{"p":"E","g":"R3","x":0.6384,"y":1.922},{"p":"E","g":"R3","x":0.7644,"y":1.906},{"p":"E","g":"R3","x":0.8756,"y":1.914},{"p":"E","g":"R3","x":1.0016,"y":1.949},{"p":"E","g":"R3","x":1.1,"y":1.953},{"p":"E","g":"R3","x":1.1,"y":3.35},
{"p":"E","g":"R2","x":0.6238,"y":3.041},{"p":"E","g":"R2","x":0.6089,"y":2.86},{"p":"E","g":"R2","x":0.6051,"y":2.524},{"p":"E","g":"R2","x":0.6089,"y":2.186},{"p":"E","g":"R2","x":0.6311,"y":2.031},{"p":"E","g":"R2","x":0.6904,"y":1.992},{"p":"E","g":"R2","x":0.8384,"y":2.044},{"p":"E","g":"R2","x":1.0016,"y":2.083},{"p":"E","g":"R2","x":1.1,"y":2.083},{"p":"E","g":"R2","x":1.1,"y":3.106},{"p":"E","g":"R2","x":1.0016,"y":3.1},{"p":"E","g":"R2","x":0.7644,"y":3.093},{"p":"E","g":"R2","x":0.6533,"y":3.068},
{"p":"E","g":"R1","x":0.6978,"y":2.86},{"p":"E","g":"R1","x":0.6682,"y":2.73},{"p":"E","g":"R1","x":0.6644,"y":2.524},{"p":"E","g":"R1","x":0.6756,"y":2.368},{"p":"E","g":"R1","x":0.7127,"y":2.252},{"p":"E","g":"R1","x":0.7793,"y":2.199},{"p":"E","g":"R1","x":0.8533,"y":2.225},{"p":"E","g":"R1","x":0.9273,"y":2.277},{"p":"E","g":"R1","x":1.0016,"y":2.29},{"p":"E","g":"R1","x":1.1,"y":2.29},{"p":"E","g":"R1","x":1.1,"y":2.925},{"p":"E","g":"R1","x":1.0016,"y":2.93},{"p":"E","g":"R1","x":0.8384,"y":2.932},{"p":"E","g":"R1","x":0.7644,"y":2.917},
{"p":"E","g":"P3","x":0.5644,"y":3.35},{"p":"E","g":"P3","x":0.5533,"y":2.912},{"p":"E","g":"P3","x":0.5511,"y":2.394},{"p":"E","g":"P3","x":0.5533,"y":1.98},{"p":"E","g":"P3","x":0.5718,"y":1.889},{"p":"E","g":"P3","x":0.6162,"y":1.858},{"p":"E","g":"P3","x":0.7644,"y":1.858},{"p":"E","g":"P3","x":1.0016,"y":1.863},{"p":"E","g":"P3","x":1.1,"y":1.863},{"p":"E","g":"P3","x":1.1,"y":3.35},
{"p":"E","g":"P2","x":0.6162,"y":3.068},{"p":"E","g":"P2","x":0.6051,"y":2.938},{"p":"E","g":"P2","x":0.594,"y":2.653},{"p":"E","g":"P2","x":0.5904,"y":2.316},{"p":"E","g":"P2","x":0.5851,"y":2.031},{"p":"E","g":"P2","x":0.594,"y":1.98},{"p":"E","g":"P2","x":0.6533,"y":1.966},{"p":"E","g":"P2","x":0.8384,"y":1.974},{"p":"E","g":"P2","x":1.0016,"y":1.98},{"p":"E","g":"P2","x":1.1,"y":1.98},{"p":"E","g":"P2","x":1.1,"y":3.132},{"p":"E","g":"P2","x":1.0016,"y":3.125},{"p":"E","g":"P2","x":0.8384,"y":3.119},{"p":"E","g":"P2","x":0.6904,"y":3.106},{"p":"E","g":"P2","x":0.6384,"y":3.093},
{"p":"E","g":"P1","x":0.6904,"y":2.873},{"p":"E","g":"P1","x":0.6607,"y":2.757},{"p":"E","g":"P1","x":0.6533,"y":2.653},{"p":"E","g":"P1","x":0.6549,"y":2.446},{"p":"E","g":"P1","x":0.6756,"y":2.29},{"p":"E","g":"P1","x":0.7273,"y":2.174},{"p":"E","g":"P1","x":0.8384,"y":2.147},{"p":"E","g":"P1","x":0.9273,"y":2.174},{"p":"E","g":"P1","x":1.0016,"y":2.174},{"p":"E","g":"P1","x":1.1,"y":2.174},{"p":"E","g":"P1","x":1.1,"y":2.925},{"p":"E","g":"P1","x":1.0016,"y":2.925},{"p":"E","g":"P1","x":0.8384,"y":2.932},{"p":"E","g":"P1","x":0.7644,"y":2.925},
{"p":"F","g":"R3","x":43.0,"y":3.35},{"p":"F","g":"R3","x":41.93,"y":3.249},{"p":"F","g":"R3","x":37.08,"y":2.757},{"p":"F","g":"R3","x":33.6,"y":2.575},{"p":"F","g":"R3","x":30.14,"y":2.472},{"p":"F","g":"R3","x":26.67,"y":2.342},{"p":"F","g":"R3","x":23.19,"y":2.238},{"p":"F","g":"R3","x":20.42,"y":2.083},{"p":"F","g":"R3","x":19.73,"y":1.953},{"p":"F","g":"R3","x":22.5,"y":1.902},{"p":"F","g":"R3","x":26.67,"y":1.953},{"p":"F","g":"R3","x":30.83,"y":2.057},{"p":"F","g":"R3","x":35.0,"y":2.161},{"p":"F","g":"R3","x":39.16,"y":2.29},{"p":"F","g":"R3","x":43.33,"y":2.446},{"p":"F","g":"R3","x":46.81,"y":2.601},{"p":"F","g":"R3","x":49.22,"y":2.782},{"p":"F","g":"R3","x":50.97,"y":3.016},{"p":"F","g":"R3","x":52.6,"y":3.35},
{"p":"F","g":"R2","x":47.49,"y":3.041},{"p":"F","g":"R2","x":41.93,"y":2.782},{"p":"F","g":"R2","x":37.08,"y":2.575},{"p":"F","g":"R2","x":32.23,"y":2.394},{"p":"F","g":"R2","x":27.35,"y":2.264},{"p":"F","g":"R2","x":22.5,"y":2.109},{"p":"F","g":"R2","x":23.19,"y":2.057},{"p":"F","g":"R2","x":28.06,"y":2.109},{"p":"F","g":"R2","x":33.6,"y":2.238},{"p":"F","g":"R2","x":38.48,"y":2.394},{"p":"F","g":"R2","x":43.33,"y":2.575},{"p":"F","g":"R2","x":46.81,"y":2.757},{"p":"F","g":"R2","x":48.54,"y":2.938},{"p":"F","g":"R2","x":48.89,"y":3.068},
{"p":"F","g":"R1","x":45.77,"y":2.938},{"p":"F","g":"R1","x":39.16,"y":2.653},{"p":"F","g":"R1","x":35.0,"y":2.497},{"p":"F","g":"R1","x":30.83,"y":2.342},{"p":"F","g":"R1","x":29.1,"y":2.252},{"p":"F","g":"R1","x":30.14,"y":2.213},{"p":"F","g":"R1","x":35.0,"y":2.329},{"p":"F","g":"R1","x":39.85,"y":2.51},{"p":"F","g":"R1","x":44.02,"y":2.679},{"p":"F","g":"R1","x":46.66,"y":2.834},{"p":"F","g":"R1","x":46.81,"y":2.925},
{"p":"F","g":"P3","x":43.3,"y":3.35},{"p":"F","g":"P3","x":42.64,"y":3.249},{"p":"F","g":"P3","x":40.56,"y":2.912},{"p":"F","g":"P3","x":37.08,"y":2.705},{"p":"F","g":"P3","x":33.6,"y":2.549},{"p":"F","g":"P3","x":29.43,"y":2.419},{"p":"F","g":"P3","x":25.98,"y":2.316},{"p":"F","g":"P3","x":21.81,"y":2.199},{"p":"F","g":"P3","x":19.37,"y":2.122},{"p":"F","g":"P3","x":18.33,"y":1.953},{"p":"F","g":"P3","x":16.94,"y":1.889},{"p":"F","g":"P3","x":18.33,"y":1.837},{"p":"F","g":"P3","x":23.89,"y":1.824},{"p":"F","g":"P3","x":28.75,"y":1.953},{"p":"F","g":"P3","x":33.6,"y":2.083},{"p":"F","g":"P3","x":38.48,"y":2.238},{"p":"F","g":"P3","x":43.33,"y":2.419},{"p":"F","g":"P3","x":47.49,"y":2.601},{"p":"F","g":"P3","x":50.27,"y":2.757},{"p":"F","g":"P3","x":52.35,"y":2.938},{"p":"F","g":"P3","x":53.89,"y":3.171},{"p":"F","g":"P3","x":54.6,"y":3.35},
{"p":"F","g":"P2","x":47.49,"y":3.145},{"p":"F","g":"P2","x":46.81,"y":3.068},{"p":"F","g":"P2","x":44.72,"y":2.963},{"p":"F","g":"P2","x":41.25,"y":2.782},{"p":"F","g":"P2","x":37.08,"y":2.601},{"p":"F","g":"P2","x":32.23,"y":2.419},{"p":"F","g":"P2","x":28.06,"y":2.29},{"p":"F","g":"P2","x":23.89,"y":2.161},{"p":"F","g":"P2","x":22.14,"y":2.083},{"p":"F","g":"P2","x":23.19,"y":2.031},{"p":"F","g":"P2","x":28.06,"y":2.083},{"p":"F","g":"P2","x":32.91,"y":2.186},{"p":"F","g":"P2","x":37.08,"y":2.316},{"p":"F","g":"P2","x":41.93,"y":2.497},{"p":"F","g":"P2","x":46.1,"y":2.679},{"p":"F","g":"P2","x":48.89,"y":2.886},{"p":"F","g":"P2","x":50.27,"y":3.093},{"p":"F","g":"P2","x":50.27,"y":3.197},
{"p":"F","g":"P1","x":46.1,"y":2.963},{"p":"F","g":"P1","x":44.02,"y":2.886},{"p":"F","g":"P1","x":39.16,"y":2.679},{"p":"F","g":"P1","x":35.0,"y":2.524},{"p":"F","g":"P1","x":30.83,"y":2.368},{"p":"F","g":"P1","x":28.06,"y":2.264},{"p":"F","g":"P1","x":28.39,"y":2.186},{"p":"F","g":"P1","x":30.83,"y":2.186},{"p":"F","g":"P1","x":35.0,"y":2.316},{"p":"F","g":"P1","x":39.16,"y":2.472},{"p":"F","g":"P1","x":43.33,"y":2.653},{"p":"F","g":"P1","x":46.45,"y":2.782},{"p":"F","g":"P1","x":47.49,"y":2.912},{"p":"F","g":"P1","x":46.81,"y":2.977},
{"p":"F","g":"P1b","x":24.58,"y":2.147},{"p":"F","g":"P1b","x":25.62,"y":2.166},{"p":"F","g":"P1b","x":27.02,"y":2.14},{"p":"F","g":"P1b","x":26.31,"y":2.104},{"p":"F","g":"P1b","x":24.94,"y":2.109}
]
},
"columns": 4,
"spacing": 0,
"bounds": "flush",
"concat": [
{"width":203,"height":201.5,"data":{"name":"hist"},"transform":[{"filter":"datum.h==='mc'"}],
 "layer":[
  {"mark":{"type":"point","filled":true,"shape":"square","opacity":0},
   "encoding":{
    "x":{"field":"x","type":"quantitative","scale":{"domain":[0.0002426,0.000994],"nice":false,"zero":false},"axis":{"values":[0.00025,0.0005,0.00075],"labels":false,"title":null}},
    "y":{"field":"y","type":"quantitative","scale":{"domain":[0,201.5],"nice":false,"zero":false},"axis":null},
    "color":{"field":"s","type":"nominal","scale":{"domain":["G","X","T"],"range":["#1f77b4","#800000","#9467bd"]},
     "legend":{"orient":"none","legendX":504,"legendY":79,"title":null,"direction":"vertical","labelFont":"DejaVu Serif","labelFontSize":15.7,"labelColor":"black","labelLimit":0,"symbolType":"M-2,-0.85H2V0.85H-2Z","symbolSize":182,"symbolOpacity":1,"symbolStrokeWidth":0,"symbolOffset":9.75,"labelOffset":24,"rowPadding":6.5,"padding":3,"strokeColor":"#cccccc","fillColor":"white","cornerRadius":4,
      "labelExpr":"datum.label==='G' ? 'GWTC-1 IMRPhenomPv2_NRTidal' : datum.label==='X' ? 'this work (IMRPhenomXAS_NRTidalv3)' : 'this work (TaylorF2)'"}}
   }},
  {"mark":{"type":"line","interpolate":"step-after","strokeWidth":2,"opacity":0.78,"clip":true},
   "encoding":{
    "x":{"field":"x","type":"quantitative","scale":{"domain":[0.0002426,0.000994],"nice":false,"zero":false},"axis":{"values":[0.00025,0.0005,0.00075],"labels":false,"title":null}},
    "y":{"field":"y","type":"quantitative","scale":{"domain":[0,201.5],"nice":false,"zero":false},"axis":null},
    "order":{"value":null},
    "color":{"field":"s","type":"nominal","scale":{"domain":["G","X","T"],"range":["#1f77b4","#800000","#9467bd"]},"legend":null}
   }}
 ]},
{"width":203,"height":201.5,"data":{"values":[]},"mark":"point","view":{"stroke":null}},
{"width":203,"height":201.5,"data":{"values":[]},"mark":"point","view":{"stroke":null}},
{"width":203,"height":201.5,"data":{"values":[]},"mark":"point","view":{"stroke":null}},
{"width":203,"height":201.5,"data":{"name":"cont"},"transform":[{"filter":"datum.p==='A'"}],
 "layer":[
  {"transform":[{"filter":"datum.g[0]!=='P'"}],
   "mark":{"type":"line","interpolate":"cardinal-closed","strokeWidth":0.9,"clip":true},
   "encoding":{
    "x":{"field":"x","type":"quantitative","scale":{"domain":[0.0002426,0.000994],"nice":false,"zero":false},"axis":{"values":[0.00025,0.0005,0.00075],"labels":false,"title":null,"orient":"bottom"}},
    "y":{"field":"y","type":"quantitative","scale":{"domain":[0.549,1.0],"nice":false,"zero":false},"axis":{"values":[0.6,0.8],"format":".1f","title":"q","labelAlign":"center","labelBaseline":"middle","labelFlush":false,"labelPadding":6}},
    "detail":{"field":"g"},"order":{"value":null},
    "fill":{"field":"g","type":"nominal","scale":{"domain":["B3","R3","R2","R1","P3","P2","P1","P1b"],"range":["rgba(31,119,180,0.03)","rgba(128,0,0,0.02)","rgba(128,0,0,0.05)","rgba(128,0,0,0.3)","rgba(148,103,189,0.08)","rgba(148,103,189,0.15)","rgba(148,103,189,0.5)","rgba(148,103,189,0.5)"]},"legend":null},
    "stroke":{"field":"g","type":"nominal","scale":{"domain":["B3","R3","R2","R1","P3","P2","P1","P1b"],"range":["rgba(31,119,180,0.35)","rgba(128,0,0,0.5)","rgba(128,0,0,0.2)","rgba(128,0,0,0.15)","rgba(148,103,189,0.85)","rgba(148,103,189,0.85)","rgba(148,103,189,0.85)","rgba(148,103,189,0.85)"]},"legend":null}
   }},
  {"transform":[{"filter":"datum.g[0]==='P'"}],
   "mark":{"type":"line","interpolate":"cardinal-closed","strokeWidth":0.9,"clip":true},
   "encoding":{
    "x":{"field":"x","type":"quantitative","scale":{"domain":[0.0002426,0.000994],"nice":false,"zero":false},"axis":{"orient":"bottom","labels":false,"ticks":false,"title":null}},
    "y":{"field":"y","type":"quantitative","scale":{"domain":[0.549,1.0],"nice":false,"zero":false},"axis":{"values":[0.6,0.8],"format":".1f","title":"q","labelAlign":"center","labelBaseline":"middle","labelFlush":false,"labelPadding":6}},
    "detail":{"field":"g"},"order":{"value":null},
    "fill":{"field":"g","type":"nominal","scale":{"domain":["B3","R3","R2","R1","P3","P2","P1","P1b"],"range":["rgba(31,119,180,0.03)","rgba(128,0,0,0.02)","rgba(128,0,0,0.05)","rgba(128,0,0,0.3)","rgba(148,103,189,0.08)","rgba(148,103,189,0.15)","rgba(148,103,189,0.5)","rgba(148,103,189,0.5)"]},"legend":null},
    "stroke":{"field":"g","type":"nominal","scale":{"domain":["B3","R3","R2","R1","P3","P2","P1","P1b"],"range":["rgba(31,119,180,0.35)","rgba(128,0,0,0.5)","rgba(128,0,0,0.2)","rgba(128,0,0,0.15)","rgba(148,103,189,0.85)","rgba(148,103,189,0.85)","rgba(148,103,189,0.85)","rgba(148,103,189,0.85)"]},"legend":null}
   }}
 ],
 "resolve":{"axis":{"x":"independent"}}},
{"width":203,"height":201.5,"data":{"name":"hist"},"transform":[{"filter":"datum.h==='q'"}],
 "mark":{"type":"line","interpolate":"step-after","strokeWidth":2,"opacity":0.78,"clip":true},
 "encoding":{
  "x":{"field":"x","type":"quantitative","scale":{"domain":[0.549,1.0],"nice":false,"zero":false},"axis":{"values":[0.6,0.8],"labels":false,"title":null}},
  "y":{"field":"y","type":"quantitative","scale":{"domain":[0,201.5],"nice":false,"zero":false},"axis":null},
  "order":{"value":null},
  "color":{"field":"s","type":"nominal","scale":{"domain":["G","X","T"],"range":["#1f77b4","#800000","#9467bd"]},"legend":null}
 }},
{"width":203,"height":201.5,"data":{"values":[]},"mark":"point","view":{"stroke":null}},
{"width":203,"height":201.5,"data":{"values":[]},"mark":"point","view":{"stroke":null}},
{"width":203,"height":201.5,"data":{"name":"cont"},"transform":[{"filter":"datum.p==='B'"}],
 "layer":[
  {"transform":[{"filter":"datum.g[0]!=='P'"}],
   "mark":{"type":"line","interpolate":"cardinal-closed","strokeWidth":0.9,"clip":true},
   "encoding":{
    "x":{"field":"x","type":"quantitative","scale":{"domain":[0.0002426,0.000994],"nice":false,"zero":false},"axis":{"values":[0.00025,0.0005,0.00075],"labels":false,"title":null,"orient":"bottom"}},
    "y":{"field":"y","type":"quantitative","scale":{"domain":[15,56.9],"nice":false,"zero":false},"axis":{"values":[15,30,45],"format":"d","title":"dL","labelAlign":"center","labelBaseline":"middle","labelFlush":false,"labelPadding":6}},
    "detail":{"field":"g"},"order":{"value":null},
    "fill":{"field":"g","type":"nominal","scale":{"domain":["B3","R3","R2","R1","P3","P2","P1","P1b"],"range":["rgba(31,119,180,0.03)","rgba(128,0,0,0.02)","rgba(128,0,0,0.05)","rgba(128,0,0,0.3)","rgba(148,103,189,0.08)","rgba(148,103,189,0.15)","rgba(148,103,189,0.5)","rgba(148,103,189,0.5)"]},"legend":null},
    "stroke":{"field":"g","type":"nominal","scale":{"domain":["B3","R3","R2","R1","P3","P2","P1","P1b"],"range":["rgba(31,119,180,0.35)","rgba(128,0,0,0.5)","rgba(128,0,0,0.2)","rgba(128,0,0,0.15)","rgba(148,103,189,0.85)","rgba(148,103,189,0.85)","rgba(148,103,189,0.85)","rgba(148,103,189,0.85)"]},"legend":null}
   }},
  {"transform":[{"filter":"datum.g[0]==='P'"}],
   "mark":{"type":"line","interpolate":"cardinal-closed","strokeWidth":0.9,"clip":true},
   "encoding":{
    "x":{"field":"x","type":"quantitative","scale":{"domain":[0.0002426,0.000994],"nice":false,"zero":false},"axis":{"orient":"bottom","labels":false,"ticks":false,"title":null}},
    "y":{"field":"y","type":"quantitative","scale":{"domain":[15,56.9],"nice":false,"zero":false},"axis":{"values":[15,30,45],"format":"d","title":"dL","labelAlign":"center","labelBaseline":"middle","labelFlush":false,"labelPadding":6}},
    "detail":{"field":"g"},"order":{"value":null},
    "fill":{"field":"g","type":"nominal","scale":{"domain":["B3","R3","R2","R1","P3","P2","P1","P1b"],"range":["rgba(31,119,180,0.03)","rgba(128,0,0,0.02)","rgba(128,0,0,0.05)","rgba(128,0,0,0.3)","rgba(148,103,189,0.08)","rgba(148,103,189,0.15)","rgba(148,103,189,0.5)","rgba(148,103,189,0.5)"]},"legend":null},
    "stroke":{"field":"g","type":"nominal","scale":{"domain":["B3","R3","R2","R1","P3","P2","P1","P1b"],"range":["rgba(31,119,180,0.35)","rgba(128,0,0,0.5)","rgba(128,0,0,0.2)","rgba(128,0,0,0.15)","rgba(148,103,189,0.85)","rgba(148,103,189,0.85)","rgba(148,103,189,0.85)","rgba(148,103,189,0.85)"]},"legend":null}
   }}
 ],
 "resolve":{"axis":{"x":"independent"}}},
{"width":203,"height":201.5,"data":{"name":"cont"},"transform":[{"filter":"datum.p==='C'"}],
 "mark":{"type":"line","interpolate":"cardinal-closed","strokeWidth":0.9,"clip":true},
 "encoding":{
  "x":{"field":"x","type":"quantitative","scale":{"domain":[0.549,1.0],"nice":false,"zero":false},"axis":{"values":[0.6,0.8],"labels":false,"title":null}},
  "y":{"field":"y","type":"quantitative","scale":{"domain":[15,56.9],"nice":false,"zero":false},"axis":{"values":[15,30,45],"labels":false,"title":null}},
  "detail":{"field":"g"},"order":{"value":null},
  "fill":{"field":"g","type":"nominal","scale":{"domain":["B3","R3","R2","R1","P3","P2","P1","P1b"],"range":["rgba(31,119,180,0.03)","rgba(128,0,0,0.02)","rgba(128,0,0,0.05)","rgba(128,0,0,0.3)","rgba(148,103,189,0.08)","rgba(148,103,189,0.15)","rgba(148,103,189,0.5)","rgba(148,103,189,0.5)"]},"legend":null},
  "stroke":{"field":"g","type":"nominal","scale":{"domain":["B3","R3","R2","R1","P3","P2","P1","P1b"],"range":["rgba(31,119,180,0.35)","rgba(128,0,0,0.5)","rgba(128,0,0,0.2)","rgba(128,0,0,0.15)","rgba(148,103,189,0.85)","rgba(148,103,189,0.85)","rgba(148,103,189,0.85)","rgba(148,103,189,0.85)"]},"legend":null}
 }},
{"width":203,"height":201.5,"data":{"name":"hist"},"transform":[{"filter":"datum.h==='dl'"}],
 "mark":{"type":"line","interpolate":"step-after","strokeWidth":2,"opacity":0.78,"clip":true},
 "encoding":{
  "x":{"field":"x","type":"quantitative","scale":{"domain":[14.8,57.1],"nice":false,"zero":false},"axis":{"values":[15,30,45],"labels":false,"title":null}},
  "y":{"field":"y","type":"quantitative","scale":{"domain":[0,201.5],"nice":false,"zero":false},"axis":null},
  "order":{"value":null},
  "color":{"field":"s","type":"nominal","scale":{"domain":["G","X","T"],"range":["#1f77b4","#800000","#9467bd"]},"legend":null}
 }},
{"width":203,"height":201.5,"data":{"values":[]},"mark":"point","view":{"stroke":null}},
{"width":203,"height":201.5,"data":{"name":"cont"},"transform":[{"filter":"datum.p==='D'"}],
 "layer":[
  {"transform":[{"filter":"datum.g[0]!=='P'"}],
   "mark":{"type":"line","interpolate":"cardinal-closed","strokeWidth":0.9,"clip":true},
   "encoding":{
    "x":{"field":"x","type":"quantitative","scale":{"domain":[0.0002426,0.000994],"nice":false,"zero":false},"axis":{"values":[0.00025,0.0005,0.00075],"format":".5f","labelPadding":21,"title":"ℳc","orient":"bottom"}},
    "y":{"field":"y","type":"quantitative","scale":{"domain":[1.5708,3.1416],"nice":false,"zero":false},"axis":{"values":[1.8,2.4,3.0],"format":".1f","title":"ι","labelAlign":"center","labelBaseline":"middle","labelFlush":false,"labelPadding":12}},
    "detail":{"field":"g"},"order":{"value":null},
    "fill":{"field":"g","type":"nominal","scale":{"domain":["B3","R3","R2","R1","P3","P2","P1","P1b"],"range":["rgba(31,119,180,0.03)","rgba(128,0,0,0.02)","rgba(128,0,0,0.05)","rgba(128,0,0,0.3)","rgba(148,103,189,0.08)","rgba(148,103,189,0.15)","rgba(148,103,189,0.5)","rgba(148,103,189,0.5)"]},"legend":null},
    "stroke":{"field":"g","type":"nominal","scale":{"domain":["B3","R3","R2","R1","P3","P2","P1","P1b"],"range":["rgba(31,119,180,0.35)","rgba(128,0,0,0.5)","rgba(128,0,0,0.2)","rgba(128,0,0,0.15)","rgba(148,103,189,0.85)","rgba(148,103,189,0.85)","rgba(148,103,189,0.85)","rgba(148,103,189,0.85)"]},"legend":null}
   }},
  {"transform":[{"filter":"datum.g[0]==='P'"}],
   "mark":{"type":"line","interpolate":"cardinal-closed","strokeWidth":0.9,"clip":true},
   "encoding":{
    "x":{"field":"x","type":"quantitative","scale":{"domain":[0.0002426,0.000994],"nice":false,"zero":false},"axis":{"orient":"bottom","labels":false,"ticks":false,"title":"+1.197","titleX":203,"titleAlign":"right","titleFontStyle":"normal","titleFontSize":13}},
    "y":{"field":"y","type":"quantitative","scale":{"domain":[1.5708,3.1416],"nice":false,"zero":false},"axis":{"values":[1.8,2.4,3.0],"format":".1f","title":"ι","labelAlign":"center","labelBaseline":"middle","labelFlush":false,"labelPadding":12}},
    "detail":{"field":"g"},"order":{"value":null},
    "fill":{"field":"g","type":"nominal","scale":{"domain":["B3","R3","R2","R1","P3","P2","P1","P1b"],"range":["rgba(31,119,180,0.03)","rgba(128,0,0,0.02)","rgba(128,0,0,0.05)","rgba(128,0,0,0.3)","rgba(148,103,189,0.08)","rgba(148,103,189,0.15)","rgba(148,103,189,0.5)","rgba(148,103,189,0.5)"]},"legend":null},
    "stroke":{"field":"g","type":"nominal","scale":{"domain":["B3","R3","R2","R1","P3","P2","P1","P1b"],"range":["rgba(31,119,180,0.35)","rgba(128,0,0,0.5)","rgba(128,0,0,0.2)","rgba(128,0,0,0.15)","rgba(148,103,189,0.85)","rgba(148,103,189,0.85)","rgba(148,103,189,0.85)","rgba(148,103,189,0.85)"]},"legend":null}
   }}
 ],
 "resolve":{"axis":{"x":"independent"}}},
{"width":203,"height":201.5,"data":{"name":"cont"},"transform":[{"filter":"datum.p==='E'"}],
 "mark":{"type":"line","interpolate":"cardinal-closed","strokeWidth":0.9,"clip":true},
 "encoding":{
  "x":{"field":"x","type":"quantitative","scale":{"domain":[0.549,1.0],"nice":false,"zero":false},"axis":{"values":[0.6,0.8],"format":".1f","title":"q"}},
  "y":{"field":"y","type":"quantitative","scale":{"domain":[1.5708,3.1416],"nice":false,"zero":false},"axis":{"values":[1.8,2.4,3.0],"labels":false,"title":null}},
  "detail":{"field":"g"},"order":{"value":null},
  "fill":{"field":"g","type":"nominal","scale":{"domain":["B3","R3","R2","R1","P3","P2","P1","P1b"],"range":["rgba(31,119,180,0.03)","rgba(128,0,0,0.02)","rgba(128,0,0,0.05)","rgba(128,0,0,0.3)","rgba(148,103,189,0.08)","rgba(148,103,189,0.15)","rgba(148,103,189,0.5)","rgba(148,103,189,0.5)"]},"legend":null},
  "stroke":{"field":"g","type":"nominal","scale":{"domain":["B3","R3","R2","R1","P3","P2","P1","P1b"],"range":["rgba(31,119,180,0.35)","rgba(128,0,0,0.5)","rgba(128,0,0,0.2)","rgba(128,0,0,0.15)","rgba(148,103,189,0.85)","rgba(148,103,189,0.85)","rgba(148,103,189,0.85)","rgba(148,103,189,0.85)"]},"legend":null}
 }},
{"width":203,"height":201.5,"data":{"name":"cont"},"transform":[{"filter":"datum.p==='F'"}],
 "mark":{"type":"line","interpolate":"cardinal-closed","strokeWidth":0.9,"clip":true},
 "encoding":{
  "x":{"field":"x","type":"quantitative","scale":{"domain":[14.8,57.1],"nice":false,"zero":false},"axis":{"values":[15,30,45],"format":"d","title":"dL","labelPadding":13}},
  "y":{"field":"y","type":"quantitative","scale":{"domain":[1.5708,3.1416],"nice":false,"zero":false},"axis":{"values":[1.8,2.4,3.0],"labels":false,"title":null}},
  "detail":{"field":"g"},"order":{"value":null},
  "fill":{"field":"g","type":"nominal","scale":{"domain":["B3","R3","R2","R1","P3","P2","P1","P1b"],"range":["rgba(31,119,180,0.03)","rgba(128,0,0,0.02)","rgba(128,0,0,0.05)","rgba(128,0,0,0.3)","rgba(148,103,189,0.08)","rgba(148,103,189,0.15)","rgba(148,103,189,0.5)","rgba(148,103,189,0.5)"]},"legend":null},
  "stroke":{"field":"g","type":"nominal","scale":{"domain":["B3","R3","R2","R1","P3","P2","P1","P1b"],"range":["rgba(31,119,180,0.35)","rgba(128,0,0,0.5)","rgba(128,0,0,0.2)","rgba(128,0,0,0.15)","rgba(148,103,189,0.85)","rgba(148,103,189,0.85)","rgba(148,103,189,0.85)","rgba(148,103,189,0.85)"]},"legend":null}
 }},
{"width":203,"height":201.5,"data":{"name":"hist"},"transform":[{"filter":"datum.h==='io'"}],
 "mark":{"type":"line","interpolate":"step-after","strokeWidth":2,"opacity":0.78,"clip":true},
 "encoding":{
  "x":{"field":"x","type":"quantitative","scale":{"domain":[1.5708,3.1416],"nice":false,"zero":false},"axis":{"values":[1.8,2.4,3.0],"format":".1f","title":"ι"}},
  "y":{"field":"y","type":"quantitative","scale":{"domain":[0,201.5],"nice":false,"zero":false},"axis":null},
  "order":{"value":null},
  "color":{"field":"s","type":"nominal","scale":{"domain":["G","X","T"],"range":["#1f77b4","#800000","#9467bd"]},"legend":null}
 }}
],
"config": {
 "view": {"stroke": "black", "strokeWidth": 1.1},
 "font": "Liberation Serif",
 "axis": {"domain": false, "grid": false, "tickColor": "black", "tickSize": 3.5, "tickWidth": 0.8, "labelFont": "Liberation Serif", "labelFontSize": 12, "labelColor": "black", "labelAngle": -45, "labelAlign": "center", "labelBaseline": "middle", "labelOverlap": false, "labelFlush": false, "labelBound": false, "titleFont": "Liberation Serif", "titleFontStyle": "italic", "titleFontWeight": "normal", "titleFontSize": 12, "titleColor": "black"},
 "axisX": {"labelPadding": 14, "titleX": 101.5, "titleY": 50, "titleBaseline": "middle", "titleAlign": "center", "titleAngle": 0},
 "axisY": {"labelPadding": 12, "titleX": -36, "titleY": 100.75, "titleAngle": -90, "titleAlign": "center", "titleBaseline": "middle"}
}
}
